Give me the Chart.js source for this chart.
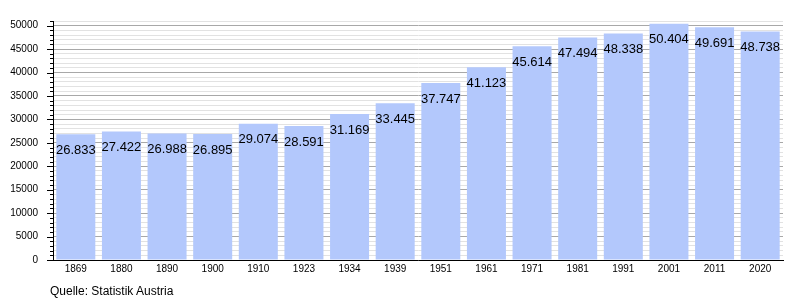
<!DOCTYPE html>
<html>
<head>
<meta charset="utf-8">
<script src="https://cdn.jsdelivr.net/npm/chart.js@4/dist/chart.umd.min.js"></script>
<style>
    html, body { margin: 0; padding: 0; background: #fff; }
    #wrap { position: relative; width: 800px; height: 300px; }
    #source {
        position: absolute; left: 50px; top: 284px;
        font: 12px "Liberation Sans", Arial, sans-serif; color: #000;
    }
</style>
</head>
<body>
<div id="wrap">
    <canvas id="popChart" width="800" height="300"></canvas>
    <div id="source">Quelle: Statistik Austria</div>
</div>
<script>
// Census years and population (Statistik Austria)
const years = ['1869', '1880', '1890', '1900', '1910', '1923', '1934', '1939',
               '1951', '1961', '1971', '1981', '1991', '2001', '2011', '2020'];
const population = [26833, 27422, 26988, 26895, 29074, 28591, 31169, 33445,
                    37747, 41123, 45614, 47494, 48338, 50404, 49691, 48738];
const yMax = 51000;
const yStep = 1000;
const yMajor = 5000;

const barColor = '#b3c8fc';
const font = '"Liberation Sans", Arial, sans-serif';

// Format like 26.833 (German thousands separator)
function fmt(v) {
    const s = String(v);
    return s.slice(0, s.length - 3) + '.' + s.slice(-3);
}

// Value labels drawn just inside the top of each bar
const barLabels = {
    id: 'barLabels',
    afterDatasetsDraw(chart) {
        const ctx = chart.ctx;
        const meta = chart.getDatasetMeta(0);
        ctx.save();
        ctx.font = '13px ' + font;
        ctx.fillStyle = '#000';
        ctx.textAlign = 'center';
        ctx.textBaseline = 'middle';
        meta.data.forEach((bar, i) => {
            ctx.fillText(fmt(population[i]), bar.x, bar.y + 16);
        });
        ctx.restore();
    }
};

// Y axis tick marks: long at 5000 steps, short at 1000 steps
const yTicks = {
    id: 'yTicks',
    afterDraw(chart) {
        const ctx = chart.ctx;
        const y = chart.scales.y;
        const left = chart.chartArea.left;
        ctx.save();
        ctx.strokeStyle = '#000';
        ctx.lineWidth = 1;
        for (let v = 0; v <= yMax; v += yStep) {
            const py = Math.round(y.getPixelForValue(v)) + 0.5;
            const len = v % yMajor === 0 ? 6 : 3;
            ctx.beginPath();
            ctx.moveTo(left - len, py);
            ctx.lineTo(left, py);
            ctx.stroke();
        }
        ctx.restore();
    }
};

new Chart(document.getElementById('popChart'), {
    type: 'bar',
    data: {
        labels: years,
        datasets: [{
            data: population,
            backgroundColor: barColor,
            borderWidth: 0,
            barPercentage: 0.855,
            categoryPercentage: 1.0
        }]
    },
    options: {
        responsive: false,
        animation: false,
        layout: { padding: { top: 20, right: 17, left: 0, bottom: 0 } },
        plugins: {
            legend: { display: false },
            tooltip: { enabled: false }
        },
        scales: {
            x: {
                afterFit(scale) { scale.height = 40; },
                grid: { display: false, drawTicks: false },
                border: { display: true, color: '#000', width: 1 },
                ticks: {
                    color: '#000',
                    padding: 3,
                    maxRotation: 0,
                    font: { size: 10, family: font }
                }
            },
            y: {
                min: 0,
                max: yMax,
                afterFit(scale) { scale.width = 53; },
                afterBuildTicks(scale) {
                    const t = [];
                    for (let v = 0; v <= yMax; v += yStep) t.push({ value: v });
                    scale.ticks = t;
                },
                grid: {
                    drawTicks: false,
                    color: c => c.tick && c.tick.value % yMajor === 0 ? '#a8a8a8' : '#e2e2e2',
                    lineWidth: 1
                },
                border: { display: true, color: '#000', width: 1 },
                ticks: {
                    autoSkip: false,
                    color: '#000',
                    padding: 15,
                    font: { size: 10, family: font },
                    callback: v => v % yMajor === 0 ? String(v) : ''
                }
            }
        }
    },
    plugins: [barLabels, yTicks]
});
</script>
</body>
</html>
